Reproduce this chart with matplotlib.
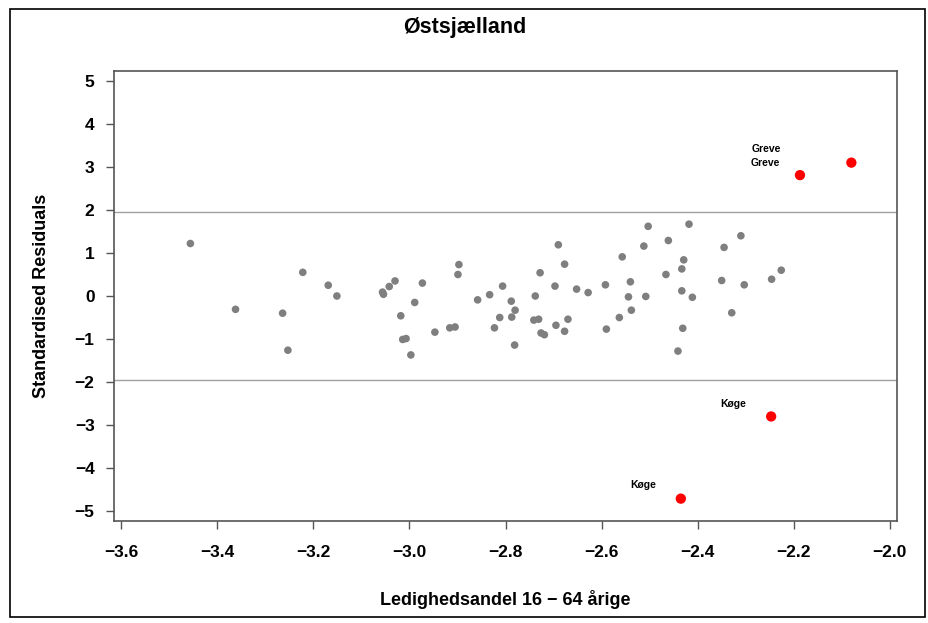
import matplotlib
matplotlib.use("Agg")
import matplotlib.pyplot as plt
from matplotlib.patches import Rectangle

plt.rcParams['font.family'] = ['Liberation Sans', 'DejaVu Sans']

# standardised residuals, ordinary municipalities
x_gray = [-3.456, -3.362, -3.264, -3.253, -3.222, -3.169, -3.151, -3.056, -3.054, -3.042,
          -3.030, -3.018, -3.014, -3.007, -2.997, -2.989, -2.973, -2.947, -2.916, -2.905,
          -2.899, -2.897, -2.858, -2.833, -2.823, -2.812, -2.806, -2.788, -2.787, -2.780,
          -2.781, -2.741, -2.731, -2.738, -2.728, -2.726, -2.719, -2.697, -2.695, -2.690,
          -2.677, -2.677, -2.670, -2.652, -2.628, -2.592, -2.590, -2.563, -2.557, -2.544,
          -2.540, -2.538, -2.512, -2.503, -2.508, -2.461, -2.466, -2.418, -2.429, -2.433,
          -2.433, -2.411, -2.431, -2.441, -2.345, -2.350, -2.310, -2.329, -2.303, -2.246,
          -2.226]
y_gray = [1.22, -0.31, -0.40, -1.26, 0.55, 0.25, 0.00, 0.09, 0.04, 0.22,
          0.35, -0.46, -1.01, -0.99, -1.37, -0.15, 0.30, -0.84, -0.74, -0.72,
          0.50, 0.73, -0.09, 0.03, -0.74, -0.50, 0.23, -0.12, -0.49, -0.33,
          -1.14, -0.56, -0.54, 0.00, 0.54, -0.86, -0.90, 0.23, -0.68, 1.19,
          0.74, -0.82, -0.54, 0.16, 0.08, 0.26, -0.77, -0.50, 0.91, -0.02,
          0.33, -0.33, 1.16, 1.62, -0.01, 1.29, 0.50, 1.67, 0.84, 0.63,
          0.12, -0.03, -0.75, -1.28, 1.13, 0.36, 1.40, -0.39, 0.26, 0.39,
          0.60]

# outliers (|res| > 1.96)
x_red = [-2.080, -2.187, -2.247, -2.435]
y_red = [3.10, 2.81, -2.80, -4.71]
red_names = ['Greve', 'Greve', 'Køge', 'Køge']
label_offset = [(-85, 14), (-35, 12), (-38, 12), (-38, 14)]  # pixels

fig = plt.figure(figsize=(9.29, 6.23), dpi=100)
ax = fig.add_axes([114/929, 1-521/623, (897-114)/929, (521-71)/623])

ax.axhline(1.96, color='#a0a0a0', lw=1, zorder=1)
ax.axhline(-1.96, color='#a0a0a0', lw=1, zorder=1)
ax.scatter(x_gray, y_gray, s=30, color='#7f7f7f', edgecolors='none', zorder=2)
ax.scatter(x_red, y_red, s=55, color='#ff0000', edgecolors='none', zorder=3)
for xi, yi, name, off in zip(x_red, y_red, red_names, label_offset):
    ax.annotate(name, (xi, yi), xytext=off, textcoords='offset pixels',
                ha='center', va='center', fontsize=7.5, fontweight='bold')

ax.set_xlim(-3.615, -1.985)
ax.set_ylim(-5.23, 5.23)
ax.set_xticks([-3.6, -3.4, -3.2, -3.0, -2.8, -2.6, -2.4, -2.2, -2.0])
ax.set_xticklabels(['−3.6', '−3.4', '−3.2', '−3.0', '−2.8', '−2.6', '−2.4', '−2.2', '−2.0'])
ax.set_yticks(range(-5, 6))
ax.tick_params(direction='out', length=6, width=1, color='#555555', labelsize=12.5, pad=8)
ax.tick_params(axis='x', pad=11)
for lab in ax.get_xticklabels() + ax.get_yticklabels():
    lab.set_fontweight('bold')
for sp in ax.spines.values():
    sp.set_color('#555555')
    sp.set_linewidth(1.2)

ax.set_xlabel('Ledighedsandel 16 − 64 årige', fontsize=13, fontweight='bold', labelpad=22)
ax.set_ylabel('Standardised Residuals', fontsize=13, fontweight='bold', labelpad=18)
fig.text(0.5, 1-27/623, 'Østsjælland', ha='center', va='center', fontsize=15.5, fontweight='bold')

# outer frame
fig.patches.append(Rectangle((10/929, 1-617/623), (925-10)/929, (617-9)/623,
                             transform=fig.transFigure, fill=False, edgecolor='black', lw=1.2))

fig.savefig('out.png', dpi=100)
